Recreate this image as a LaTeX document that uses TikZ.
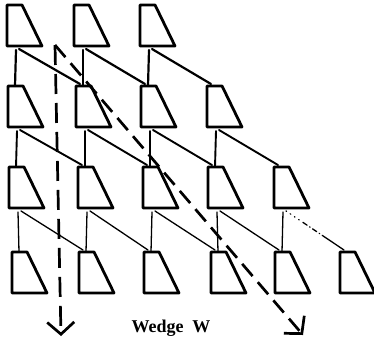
\documentclass[tikz,border=0pt]{standalone}
\usepackage{fontspec}
\setmainfont{Liberation Serif}
\usetikzlibrary{arrows.meta,calc}
\begin{document}
\begin{tikzpicture}[x=1pt,y=-1pt,
  wedgebox/.style={rectangle, minimum width=35pt, minimum height=41pt,
    inner sep=0pt, outer sep=0pt, anchor=north west},
  wedgeline/.style={line width=2.8pt, line join=round},
  conn/.style={line width=#1, line cap=round},
  guide/.style={line width=2.7pt, line cap=butt},
  barb/.style={-{Straight Barb[length=12pt,width=27pt]}},
  caption/.style={font=\fontsize{18}{20}\selectfont\bfseries, anchor=base, inner sep=0pt}
]
\useasboundingbox (0,0) rectangle (374,338);

% the wedge boxes, row by row (top-left corner of each box)
\foreach \r/\tp/\xs in {1/5/{7,74,140}, 2/86/{8,76,141,207},
                        3/167/{9,78,143,208,274}, 4/252/{12,79,144,211,275,340}} {
  \foreach \x [count=\c] in \xs {
    \node[wedgebox] (t\r\c) at (\x,\tp) {};
    \draw[wedgeline] (t\r\c.north west) -- ($(t\r\c.north west)!0.43!(t\r\c.north east)$)
      -- (t\r\c.south east) -- (t\r\c.south west) -- cycle;
  }
}

% links: straight down and down to the right
\foreach \r/\n/\w in {1/3/2.2pt, 2/4/1.9pt, 3/5/1.3pt} {
  \pgfmathtruncatemacro\rr{\r+1}
  \foreach \c in {1,...,\n} {
    \pgfmathtruncatemacro\cc{\c+1}
    \draw[conn=\w] ($(t\r\c.south west)+(9,4)$) -- ($(t\rr\c.north west)+(7,0)$);
    \ifnum\r\c=35\relax
      \draw[conn=1.3pt, dash pattern=on 0.6pt off 4.5pt on 0.6pt off 4.5pt on 0.6pt off 4.5pt on 0.6pt off 4.5pt
            on 5pt off 3pt on 0.6pt off 3pt on 5pt off 3pt on 0.6pt off 3pt on 60pt]
        ($(t\r\c.south west)+(12,3)$) -- ($(t\rr\cc.north west)+(4,-2)$);
    \else
      \draw[conn=\w] ($(t\r\c.south west)+(12,3)$) -- ($(t\rr\cc.north west)+(4,-2)$);
    \fi
  }
}

% the two dashed arrows
\coordinate (src) at (55,45);
\coordinate (downend) at (61,336);
\coordinate (diagend) at (303,335);
\draw[guide, barb, dash pattern=on 20pt off 9pt] (src) -- (downend);
\draw[guide, barb, dash pattern=on 16pt off 8pt] (src) -- (diagend);

\node[caption] (lbl) at (171,332) {Wedge\hspace{9pt}W};
\end{tikzpicture}
\end{document}
